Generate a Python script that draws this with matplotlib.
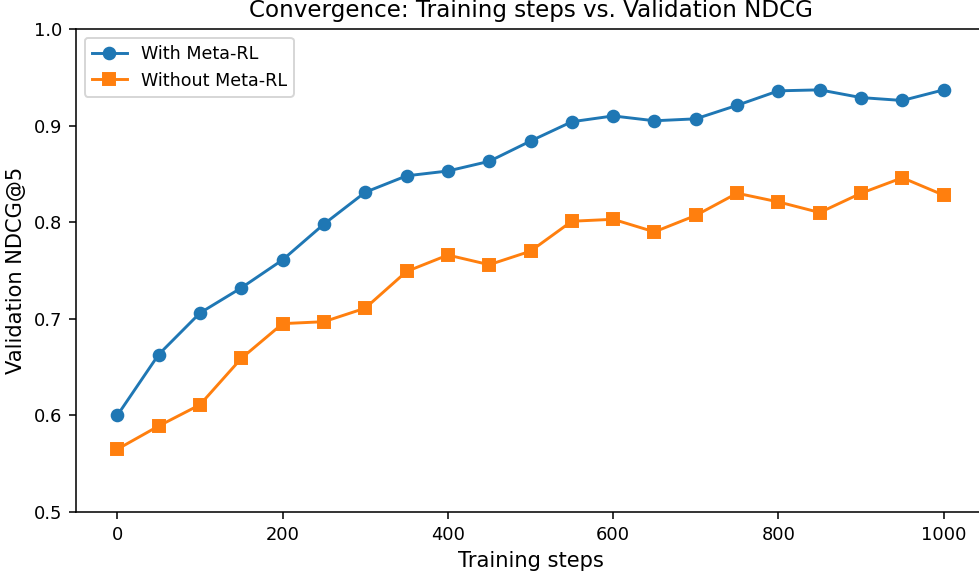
import numpy as np
import matplotlib
matplotlib.use('Agg')
import matplotlib.pyplot as plt

steps = [0, 50, 100, 150, 200, 250, 300, 350, 400, 450, 500,
         550, 600, 650, 700, 750, 800, 850, 900, 950, 1000]
with_meta = [0.600, 0.663, 0.706, 0.732, 0.761, 0.798, 0.831, 0.848, 0.853, 0.863, 0.884,
             0.904, 0.910, 0.905, 0.907, 0.921, 0.936, 0.937, 0.929, 0.926, 0.937]
without_meta = [0.565, 0.589, 0.611, 0.659, 0.695, 0.697, 0.711, 0.749, 0.766, 0.756, 0.770,
                0.801, 0.803, 0.790, 0.807, 0.830, 0.821, 0.810, 0.830, 0.846, 0.828]

dpi = 140
fig = plt.figure(figsize=(979 / dpi, 573 / dpi), dpi=dpi)
ax = fig.add_axes([76 / 979, 1 - 512 / 573, 909 / 979, 483 / 573])

ax.plot(steps, with_meta, marker='o', label='With Meta-RL')
ax.plot(steps, without_meta, marker='s', label='Without Meta-RL')
ax.set_ylim(0.5, 1.0)
ax.set_xlabel('Training steps', fontsize=10.8)
ax.set_ylabel('Validation NDCG@5', fontsize=10.8)
ax.set_title('Convergence: Training steps vs. Validation NDCG', fontsize=11.8)
ax.tick_params(labelsize=9.2)
ax.legend(loc='upper left', fontsize=9.0)

fig.savefig('out.png', dpi=dpi)
